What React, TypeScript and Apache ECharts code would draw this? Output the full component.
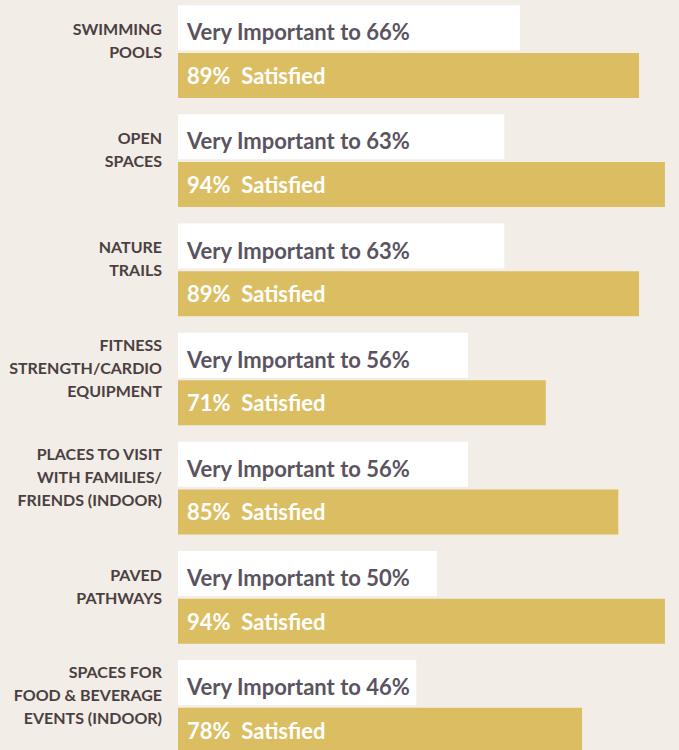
import React, { useEffect, useRef } from "react";
import * as echarts from "echarts";

const categories = [
  "SWIMMING\nPOOLS",
  "OPEN\nSPACES",
  "NATURE\nTRAILS",
  "FITNESS\nSTRENGTH/CARDIO\nEQUIPMENT",
  "PLACES TO VISIT\nWITH FAMILIES/\nFRIENDS (INDOOR)",
  "PAVED\nPATHWAYS",
  "SPACES FOR\nFOOD & BEVERAGE\nEVENTS (INDOOR)",
];
const importance = [66, 63, 63, 56, 56, 50, 46];
const satisfaction = [89, 94, 89, 71, 85, 94, 78];

export default function App() {
  const ref = useRef<HTMLDivElement>(null);
  useEffect(() => {
    if (!ref.current) return;
    const chart = echarts.init(ref.current, null, { renderer: "svg" });
    chart.setOption({
      animation: false,
      backgroundColor: "#f2ede6",
      grid: { left: 178, top: 0, width: 518, height: 764, containLabel: false },
      xAxis: {
        type: "value",
        min: 0,
        max: 100,
        show: false,
      },
      yAxis: {
        type: "category",
        data: categories,
        inverse: true,
        axisLine: { show: false },
        axisTick: { show: false },
        splitLine: { show: false },
        axisLabel: {
          margin: 16,
          fontFamily: "Lato",
          fontWeight: "bold",
          fontSize: 16,
          lineHeight: 23,
          color: "#4a4042",
          align: "right",
          formatter: (v: string) => v + "\n",
        },
      },
      series: [
        {
          name: "Very Important",
          type: "bar",
          data: importance,
          barWidth: 45,
          barGap: "6%",
          itemStyle: { color: "#ffffff" },
          label: {
            show: true,
            position: "insideLeft",
            distance: 9,
            offset: [0, 4],
            formatter: (p: any) => `Very Important to ${p.value}%`,
            fontFamily: "Lato",
            fontWeight: "bold",
            fontSize: 22,
            color: "#5a5460",
          },
        },
        {
          name: "Satisfied",
          type: "bar",
          data: satisfaction,
          barWidth: 45,
          itemStyle: { color: "#dcbe62" },
          label: {
            show: true,
            position: "insideLeft",
            distance: 9,
            formatter: (p: any) => `${p.value}%  Satisfied`,
            fontFamily: "Lato",
            fontWeight: "bold",
            fontSize: 22,
            color: "#ffffff",
          },
        },
      ],
    });
    return () => chart.dispose();
  }, []);
  return (
    <div
      style={{
        position: "fixed",
        top: 0,
        left: 0,
        width: 679,
        height: 750,
        overflow: "hidden",
        background: "#f2ede6",
      }}
    >
      <div
        ref={ref}
        style={{ position: "absolute", top: -3, left: 0, width: 696, height: 764 }}
      />
    </div>
  );
}
